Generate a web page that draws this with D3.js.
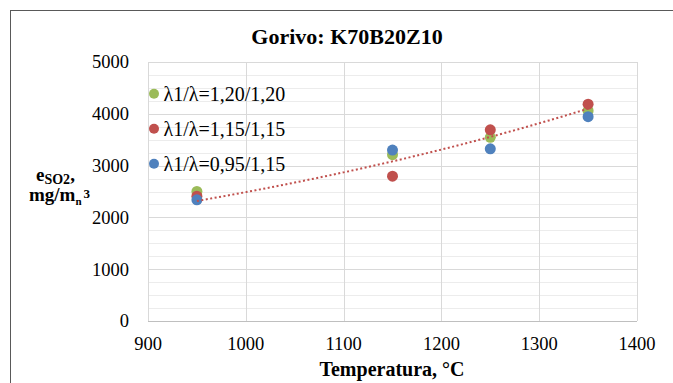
<!DOCTYPE html>
<html>
<head>
<meta charset="utf-8">
<script src="https://cdn.jsdelivr.net/npm/d3@7"></script>
<style>
  body { margin: 0; background: #fff; }
  text, tspan { font-family: "Liberation Serif", "Times New Roman", Tinos, serif; }
</style>
</head>
<body>
<script>
// temperatures on x
var temps = [950, 1150, 1250, 1350];
// series names and values (mg/mn3)
var seriesNames = ["λ1/λ=1,20/1,20", "λ1/λ=1,15/1,15", "λ1/λ=0,95/1,15"];
var greenVals = [2500, 3210, 3545, 4060];
var redVals = [2410, 2795, 3690, 4185];
var blueVals = [2340, 3300, 3325, 3945];
var xTicks = [900, 1000, 1100, 1200, 1300, 1400];
var yTicks = [0, 1000, 2000, 3000, 4000, 5000];

var FONT = "'Liberation Serif'";

function drawChart() {
    var width = 673, height = 383;
    var colors = ["#9bbb59", "#c0504d", "#4f81bd"];
    var series = [greenVals, redVals, blueVals];

    var svg = d3.select("body").append("svg")
        .attr("width", width)
        .attr("height", height)
        .style("display", "block");

    // outer frame
    svg.append("rect")
        .attr("x", 10.5).attr("y", 10.5)
        .attr("width", width + 20).attr("height", height + 20)
        .attr("fill", "none")
        .attr("stroke", "#595959")
        .attr("stroke-width", 1);

    var x = d3.scaleLinear().domain([900, 1400]).range([148, 637]);
    var y = d3.scaleLinear().domain([0, 5000]).range([321, 62]);

    // minor gridlines every 250
    var minor = d3.range(250, 5000, 250).filter(function(v) { return v % 1000 !== 0; });
    svg.append("g").selectAll("line")
        .data(minor)
        .enter().append("line")
        .attr("x1", x(900)).attr("x2", x(1400))
        .attr("y1", function(d) { return Math.round(y(d)) + 0.5; })
        .attr("y2", function(d) { return Math.round(y(d)) + 0.5; })
        .attr("stroke", "#ececec");

    // major gridlines
    svg.append("g").selectAll("line")
        .data(yTicks)
        .enter().append("line")
        .attr("x1", x(900)).attr("x2", x(1400))
        .attr("y1", function(d) { return Math.round(y(d)) + 0.5; })
        .attr("y2", function(d) { return Math.round(y(d)) + 0.5; })
        .attr("stroke", "#d9d9d9");

    svg.append("g").selectAll("line")
        .data(xTicks)
        .enter().append("line")
        .attr("x1", function(d) { return Math.round(x(d)) + 0.5; })
        .attr("x2", function(d) { return Math.round(x(d)) + 0.5; })
        .attr("y1", y(0)).attr("y2", y(5000))
        .attr("stroke", "#d9d9d9");

    // bottom axis line
    svg.append("line")
        .attr("x1", x(900)).attr("x2", x(1400))
        .attr("y1", Math.round(y(0)) + 0.5).attr("y2", Math.round(y(0)) + 0.5)
        .attr("stroke", "#bfbfbf");

    // tick labels
    svg.append("g").selectAll("text")
        .data(yTicks)
        .enter().append("text")
        .attr("x", 129)
        .attr("y", function(d) { return y(d); })
        .attr("dy", "0.35em")
        .attr("text-anchor", "end")
        .style("font-family", FONT)
        .style("font-size", "18.5px")
        .text(function(d) { return d; });

    svg.append("g").selectAll("text")
        .data(xTicks)
        .enter().append("text")
        .attr("x", function(d) { return x(d); })
        .attr("y", 350)
        .attr("text-anchor", "middle")
        .style("font-family", FONT)
        .style("font-size", "18.5px")
        .text(function(d) { return d; });

    // title
    svg.append("text")
        .attr("x", 347).attr("y", 44)
        .attr("text-anchor", "middle")
        .style("font-family", FONT)
        .style("font-size", "22px")
        .style("font-weight", "bold")
        .text("Gorivo: K70B20Z10");

    // axis titles
    svg.append("text")
        .attr("x", 392).attr("y", 376)
        .attr("text-anchor", "middle")
        .style("font-family", FONT)
        .style("font-size", "20px")
        .style("font-weight", "bold")
        .text("Temperatura, °C");

    var yt1 = svg.append("text")
        .attr("x", 36).attr("y", 181)
        .style("font-family", FONT)
        .style("font-size", "19px")
        .style("font-weight", "bold");
    yt1.append("tspan").text("e");
    yt1.append("tspan").attr("dy", 3).style("font-size", "14px").text("SO2");
    yt1.append("tspan").attr("dy", -3).text(",");

    var yt2 = svg.append("text")
        .attr("x", 29).attr("y", 201)
        .style("font-family", FONT)
        .style("font-size", "19px")
        .style("font-weight", "bold");
    yt2.append("tspan").text("mg/m");
    yt2.append("tspan").attr("dy", 4).style("font-size", "11px").text("n");
    yt2.append("tspan").attr("dx", 2).attr("dy", -7).style("font-size", "13px").text("3");

    // markers
    series.forEach(function(vals, i) {
        svg.append("g").selectAll("circle")
            .data(vals)
            .enter().append("circle")
            .attr("cx", function(d, j) { return x(temps[j]); })
            .attr("cy", function(d) { return y(d); })
            .attr("r", 5.5)
            .attr("fill", colors[i]);
    });

    // exponential trendline fitted to the red series
    var lnY = redVals.map(function(v) { return Math.log(v); });
    var mx = d3.mean(temps), my = d3.mean(lnY);
    var sxy = d3.sum(temps, function(t, j) { return (t - mx) * (lnY[j] - my); });
    var sxx = d3.sum(temps, function(t) { return (t - mx) * (t - mx); });
    var b = sxy / sxx, a = my - b * mx;
    var trendX = d3.range(950, 1351, 10);
    var line = d3.line()
        .x(function(t) { return x(t); })
        .y(function(t) { return y(Math.exp(a + b * t)); });
    svg.append("path")
        .datum(trendX)
        .attr("d", line)
        .attr("fill", "none")
        .attr("stroke", "#c0504d")
        .attr("stroke-width", 2)
        .attr("stroke-dasharray", "2,2.5");

    // legend
    var legend = svg.append("g").selectAll("g")
        .data(seriesNames)
        .enter().append("g")
        .attr("transform", function(d, i) { return "translate(154," + (93.8 + i * 35) + ")"; });
    legend.append("circle")
        .attr("r", 5)
        .attr("fill", function(d, i) { return colors[i]; });
    legend.append("text")
        .attr("x", 9.5)
        .attr("y", 7.5)
        .style("font-family", FONT)
        .style("font-size", "20px")
        .text(function(d) { return d; });
}

drawChart();
</script>
</body>
</html>
